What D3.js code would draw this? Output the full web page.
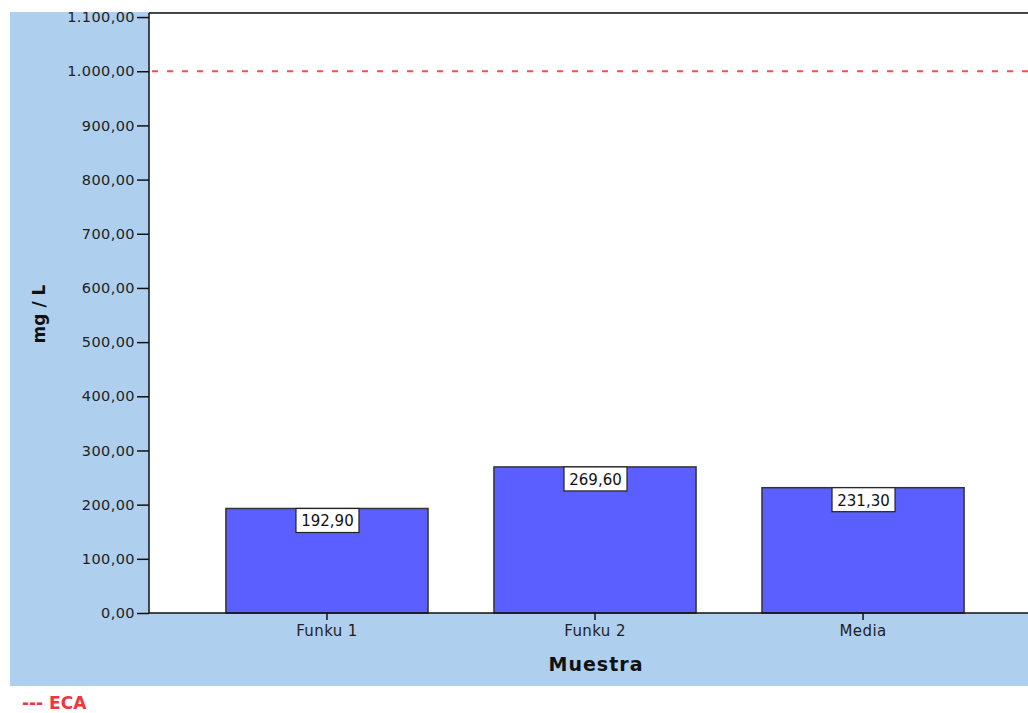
<!DOCTYPE html>
<html>
<head>
<meta charset="utf-8">
<script src="https://cdn.jsdelivr.net/npm/d3@7"></script>
<style>
  html, body { margin: 0; padding: 0; background: #fff; }
  svg { display: block; }
  text { font-family: "DejaVu Sans", Verdana, sans-serif; }
</style>
</head>
<body>
<svg id="chart" width="1028" height="713"></svg>
<script>
// Sample categories and measured concentration (mg/L)
const categories = ["Funku 1", "Funku 2", "Media"];
const values = [192.90, 269.60, 231.30];
// Reference limit (ECA)
const limitValue = [1000];
const yTicks = [0, 100, 200, 300, 400, 500, 600, 700, 800, 900, 1000, 1100];

const svg = d3.select("#chart");
const W = 1028, H = 713;

const plot = { left: 149, right: 1041, top: 13, bottom: 613 };

// Outer light-blue frame
svg.append("rect")
  .attr("x", 10).attr("y", 12)
  .attr("width", W - 10).attr("height", 674)
  .attr("fill", "#AECFEE");

// White plot area
svg.append("rect")
  .attr("x", plot.left).attr("y", plot.top)
  .attr("width", W - plot.left).attr("height", plot.bottom - plot.top)
  .attr("fill", "#fff");

const fmt = v => {
  const s = d3.format(",.2f")(v);
  return s.replace(/,/g, "#").replace(/\./g, ",").replace(/#/g, ".");
};

const x = d3.scaleBand()
  .domain(categories)
  .range([plot.left, plot.right])
  .paddingInner(0.246)
  .paddingOuter(0.287);

const y = d3.scaleLinear()
  .domain([0, 1107.5])
  .range([plot.bottom, plot.top]);

// Bars
svg.append("g").selectAll("rect")
  .data(values)
  .join("rect")
  .attr("x", (d, i) => x(categories[i]))
  .attr("y", d => y(d))
  .attr("width", x.bandwidth())
  .attr("height", d => y(0) - y(d))
  .attr("fill", "#5B5FFF")
  .attr("stroke", "#333")
  .attr("stroke-width", 1.5);

// Value labels
const lab = svg.append("g").selectAll("g")
  .data(values)
  .join("g")
  .attr("transform", (d, i) => `translate(${x(categories[i]) + x.bandwidth() / 2},${y(d)})`);
lab.append("rect")
  .attr("x", -31).attr("y", 0)
  .attr("width", 63).attr("height", 24)
  .attr("fill", "#fff")
  .attr("stroke", "#222")
  .attr("stroke-width", 1.2);
lab.append("text")
  .attr("x", 0.5).attr("y", 18)
  .attr("text-anchor", "middle")
  .attr("font-size", 15)
  .attr("fill", "#111")
  .text(d => fmt(d));

// ECA limit line
svg.append("g").selectAll("line")
  .data(limitValue)
  .join("line")
  .attr("x1", plot.left + 3).attr("x2", W)
  .attr("y1", d => y(d)).attr("y2", d => y(d))
  .attr("stroke", "#FF4A4A")
  .attr("stroke-width", 2)
  .attr("stroke-dasharray", "6,9");

// Y axis
const yAxis = d3.axisLeft(y)
  .tickValues(yTicks)
  .tickSize(12)
  .tickPadding(2)
  .tickFormat(fmt);
const gy = svg.append("g")
  .attr("transform", `translate(${plot.left},0)`)
  .call(yAxis);
gy.select(".domain").remove();
gy.selectAll(".tick line").attr("stroke", "#111").attr("stroke-width", 1.5);
gy.selectAll(".tick text")
  .attr("font-size", 14.5)
  .attr("letter-spacing", "0.4px")
  .attr("fill", "#222")
  .style("font-family", "\"DejaVu Sans\", Verdana, sans-serif");

// X axis
const xAxis = d3.axisBottom(x).tickSize(7).tickPadding(5);
const gx = svg.append("g")
  .attr("transform", `translate(0,${plot.bottom})`)
  .call(xAxis);
gx.select(".domain").remove();
gx.selectAll(".tick line").attr("stroke", "#111").attr("stroke-width", 1.5);
gx.selectAll(".tick text")
  .attr("font-size", 15)
  .attr("letter-spacing", "0.4px")
  .attr("fill", "#222")
  .style("font-family", "\"DejaVu Sans\", Verdana, sans-serif");

// Plot frame lines
svg.append("line")
  .attr("x1", plot.left).attr("x2", W)
  .attr("y1", plot.bottom).attr("y2", plot.bottom)
  .attr("stroke", "#111").attr("stroke-width", 1.5);
svg.append("line")
  .attr("x1", plot.left).attr("x2", plot.left)
  .attr("y1", plot.top).attr("y2", plot.bottom)
  .attr("stroke", "#111").attr("stroke-width", 1.5);
svg.append("line")
  .attr("x1", plot.left).attr("x2", W)
  .attr("y1", plot.top).attr("y2", plot.top)
  .attr("stroke", "#111").attr("stroke-width", 1.5);

// Axis titles
svg.append("text")
  .attr("x", 596).attr("y", 671)
  .attr("text-anchor", "middle")
  .attr("font-size", 19)
  .attr("font-weight", "bold")
  .attr("letter-spacing", "1px")
  .attr("fill", "#111")
  .text("Muestra");

svg.append("text")
  .attr("transform", "translate(45,314) rotate(-90)")
  .attr("text-anchor", "middle")
  .attr("font-size", 17)
  .attr("font-weight", "bold")
  .attr("fill", "#111")
  .text("mg / L");

// Legend
svg.append("text")
  .attr("x", 22).attr("y", 709)
  .attr("font-size", 17)
  .attr("font-weight", "bold")
  .attr("fill", "#F0363C")
  .text("--- ECA");
</script>
</body>
</html>
